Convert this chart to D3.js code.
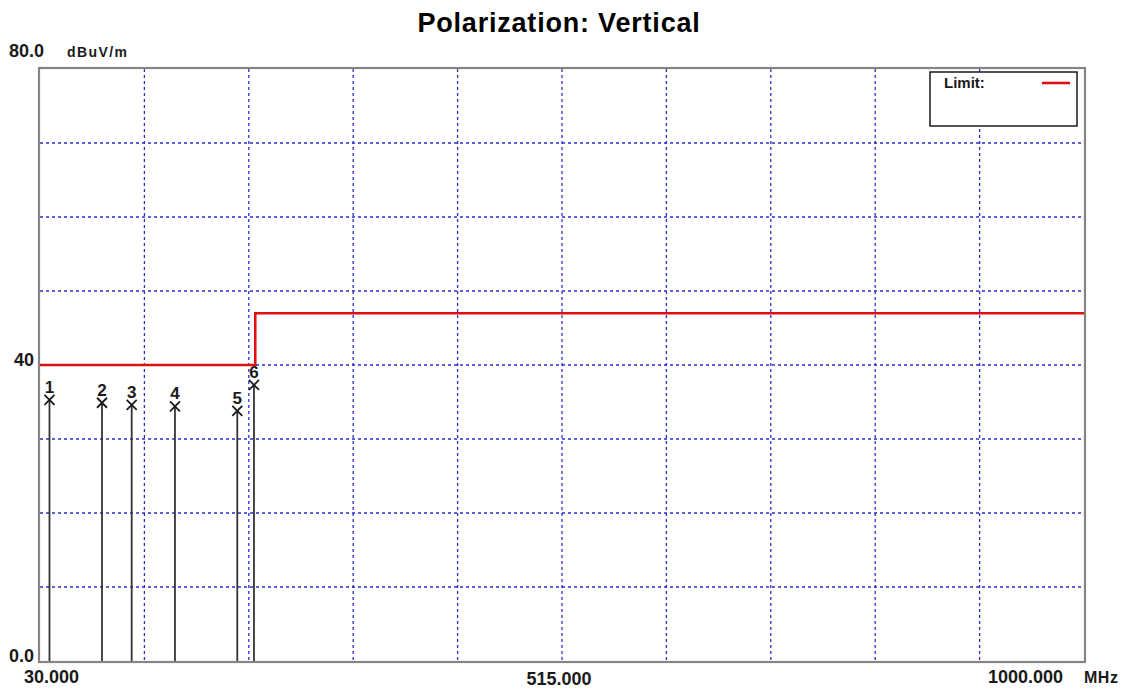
<!DOCTYPE html>
<html>
<head>
<meta charset="utf-8">
<script src="https://cdn.jsdelivr.net/npm/d3@7"></script>
<style>
  body { margin: 0; background: #fff; }
  svg { display: block; font-family: "Liberation Sans", Arial, sans-serif; }
</style>
</head>
<body>
<svg id="chart" width="1125" height="691"></svg>
<script>
// limit line (MHz, dBuV/m)
const limitFreq = [30, 230, 230, 1000];
const limitLevel = [40, 40, 47, 47];

// measured peaks
const markerIds = [1, 2, 3, 4, 5, 6];
const markerFreq = [38.8, 87.6, 115.2, 155.4, 213.3, 228.8];
const markerLevel = [35.3, 34.9, 34.6, 34.4, 33.8, 37.3];

const yTickLabels = ['0.0', '40', '80.0'];
const yTickValues = [0, 40, 80];
const xTickLabels = ['30.000', '515.000', '1000.000'];
const xTickValues = [30, 515, 1000];

const plotLeft = 40, plotRight = 1084, plotTop = 69, plotBottom = 661;

const x = d3.scaleLinear().domain([30, 1000]).range([plotLeft, plotRight]);
const y = d3.scaleLinear().domain([0, 80]).range([plotBottom, plotTop]);

const svg = d3.select('#chart');
const ink = '#1a1a1a';

// title
svg.append('text')
    .attr('x', 559).attr('y', 32)
    .attr('text-anchor', 'middle')
    .attr('font-size', 27).attr('font-weight', 'bold')
    .attr('letter-spacing', 0.8)
    .text('Polarization: Vertical');

// dotted grid, 10 x 8 divisions
const gridX = d3.range(1, 10).map(i => 30 + i * 97);
const gridY = d3.range(1, 8).map(i => i * 10);

svg.append('g').selectAll('line').data(gridX).join('line')
    .attr('x1', d => x(d)).attr('x2', d => x(d))
    .attr('y1', plotTop).attr('y2', plotBottom)
    .attr('stroke', '#2d2dcc').attr('stroke-width', 1.3)
    .attr('stroke-dasharray', '3,3');

svg.append('g').selectAll('line').data(gridY).join('line')
    .attr('x1', plotLeft).attr('x2', plotRight)
    .attr('y1', d => y(d)).attr('y2', d => y(d))
    .attr('stroke', '#2d2dcc').attr('stroke-width', 1.3)
    .attr('stroke-dasharray', '3,3');

// frame
svg.append('rect')
    .attr('x', plotLeft - 1).attr('y', plotTop - 1)
    .attr('width', plotRight - plotLeft + 2).attr('height', plotBottom - plotTop + 2)
    .attr('fill', 'none').attr('stroke', '#858585').attr('stroke-width', 2.2);

// limit line
const limitData = limitFreq.map((f, i) => ({f: f, v: limitLevel[i]}));
svg.append('path')
    .datum(limitData)
    .attr('d', d3.line().x(d => x(d.f)).y(d => y(d.v)))
    .attr('fill', 'none').attr('stroke', '#e01010').attr('stroke-width', 2.6);

// markers
const markers = markerIds.map((id, i) => ({id: id, f: markerFreq[i], v: markerLevel[i]}));
const mg = svg.append('g').selectAll('g').data(markers).join('g')
    .attr('transform', d => `translate(${x(d.f)},0)`);

mg.append('line')
    .attr('x1', 0).attr('x2', 0)
    .attr('y1', plotBottom).attr('y2', d => y(d.v))
    .attr('stroke', '#333').attr('stroke-width', 1.8);

mg.append('path')
    .attr('d', d => {
        const cy = y(d.v), s = 5;
        return `M${-s},${cy - s}L${s},${cy + s}M${-s},${cy + s}L${s},${cy - s}`;
    })
    .attr('stroke', ink).attr('stroke-width', 1.8).attr('fill', 'none');

mg.append('text')
    .attr('x', 0).attr('y', d => y(d.v) - 7)
    .attr('text-anchor', 'middle')
    .attr('font-size', 17).attr('font-weight', 'bold')
    .attr('fill', ink)
    .text(d => d.id);

// axis labels
svg.append('g').selectAll('text').data(yTickValues).join('text')
    .attr('x', d => d === 40 ? 34 : 9)
    .attr('y', d => d === 80 ? 57 : y(d) + 1)
    .attr('text-anchor', d => d === 40 ? 'end' : 'start')
    .attr('font-size', 18).attr('font-weight', 'bold')
    .attr('fill', ink)
    .text((d, i) => yTickLabels[i]);

svg.append('text')
    .attr('x', 67).attr('y', 57)
    .attr('font-size', 14).attr('font-weight', 'bold')
    .attr('letter-spacing', 1.4)
    .attr('fill', ink)
    .text('dBuV/m');

svg.append('g').selectAll('text').data(xTickValues).join('text')
    .attr('x', (d, i) => i === 0 ? 24 : (i === 2 ? 1063 : 559))
    .attr('y', d => d === 515 ? 685 : 683)
    .attr('text-anchor', (d, i) => i === 0 ? 'start' : (i === 2 ? 'end' : 'middle'))
    .attr('font-size', 18).attr('font-weight', 'bold')
    .attr('fill', ink)
    .text((d, i) => xTickLabels[i]);

svg.append('text')
    .attr('x', 1084).attr('y', 683)
    .attr('font-size', 16).attr('font-weight', 'bold')
    .attr('letter-spacing', 0.5)
    .attr('fill', ink)
    .text('MHz');

// legend
const legend = svg.append('g').attr('transform', 'translate(930,72)');
legend.append('rect')
    .attr('width', 147).attr('height', 54)
    .attr('fill', '#fff').attr('stroke', ink).attr('stroke-width', 1.5);
legend.append('text')
    .attr('x', 14).attr('y', 16)
    .attr('font-size', 15).attr('font-weight', 'bold')
    .attr('fill', ink)
    .text('Limit:');
legend.append('line')
    .attr('x1', 112).attr('x2', 140).attr('y1', 11).attr('y2', 11)
    .attr('stroke', '#e01010').attr('stroke-width', 2.6);
</script>
</body>
</html>
